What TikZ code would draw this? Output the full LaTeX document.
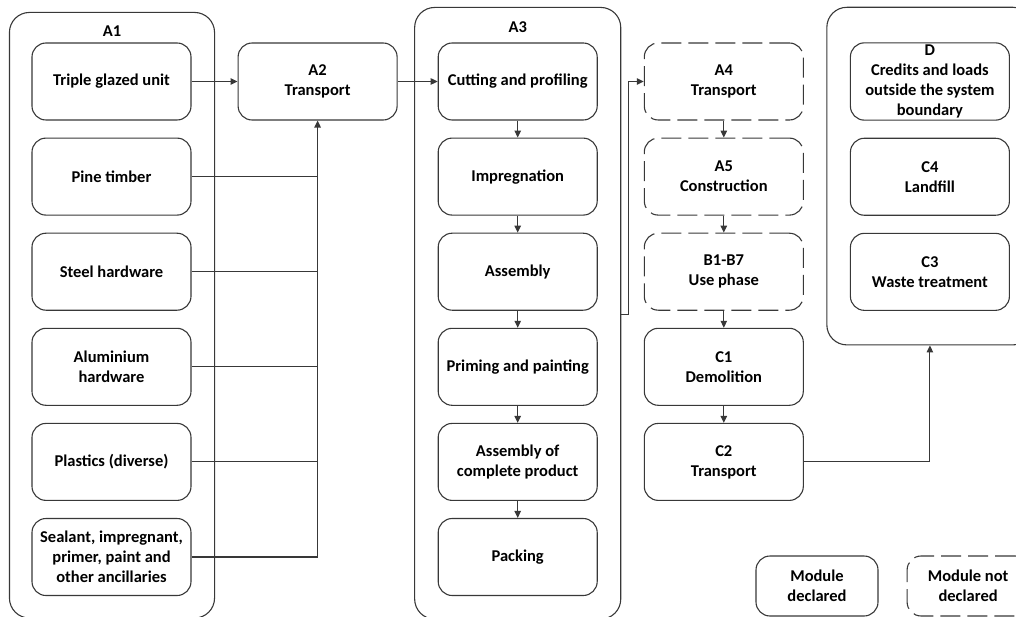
\documentclass[tikz,border=0pt]{standalone}
\usepackage{fontspec}
\setmainfont{Carlito}
\usetikzlibrary{arrows.meta,positioning,fit,calc}

\begin{document}
\begin{tikzpicture}[
    node distance=17pt and 46pt,
    font=\fontsize{16.5}{20}\selectfont\bfseries,
    box/.style={rectangle, rounded corners=14pt, draw=black!78, line width=1.1pt, align=center, minimum width=159pt, minimum height=77pt, inner sep=2pt},
    nobox/.style={box, dash pattern=on 20pt off 7pt},
    group/.style={rectangle, rounded corners=20pt, draw=black!78, line width=1.1pt, inner sep=0pt},
    title/.style={inner sep=0pt},
    link/.style={draw=black!78, line width=1.1pt},
    arr/.style={link, -{Triangle[length=7pt,width=6.5pt]}}
]
\useasboundingbox (0,0) rectangle (1016pt,-617pt);

% Module A1
\node[box] (tgu) at (111.5pt,-81.5pt) {Triple glazed unit};
\node[box, below=of tgu] (pine) {Pine timber};
\node[box, below=of pine] (steel) {Steel hardware};
\node[box, below=of steel] (alu) {Aluminium\\hardware};
\node[box, below=of alu] (plast) {Plastics (diverse)};
\node[box, below=of plast] (seal) {Sealant, impregnant,\\primer, paint and\\other ancillaries};

% Module A2
\node[box, right=of tgu] (a2) {A2\\Transport};

% Module A3
\node[box, right=40pt of a2] (cut) {Cutting and profiling};
\node[box, below=of cut] (impr) {Impregnation};
\node[box, below=of impr] (asm) {Assembly};
\node[box, below=of asm] (prime) {Priming and painting};
\node[box, below=of prime] (full) {Assembly of\\complete product};
\node[box, below=of full] (pack) {Packing};

% Modules A4 to C2
\node[nobox, right=of cut] (a4) {A4\\Transport};
\node[nobox, below=of a4] (a5) {A5\\Construction};
\node[nobox, below=of a5] (use) {B1-B7\\Use phase};
\node[box, below=of use] (c1) {C1\\Demolition};
\node[box, below=of c1] (c2) {C2\\Transport};

% Modules D, C4 and C3
\node[box, right=of a4] (dmod) {D\\Credits and loads\\outside the system\\boundary};
\node[box, below=of dmod] (c4) {C4\\Landfill};
\node[box, below=of c4] (c3) {C3\\Waste treatment};

% Group frames
\coordinate (a1nw) at ($(tgu.north west)+(-22pt,30pt)$);
\coordinate (a1se) at ($(seal.south east)+(23pt,-22pt)$);
\node[group, fit=(a1nw)(a1se)] (a1) {};
\node[title, below=14pt of a1.north] (a1lbl) {A1};

\coordinate (a3nw) at ($(cut.north west)+(-23pt,35pt)$);
\coordinate (a3se) at ($(pack.south east)+(23pt,-23pt)$);
\node[group, fit=(a3nw)(a3se)] (a3) {};
\node[title, below=15pt of a3.north] (a3lbl) {A3};

\coordinate (dnw) at ($(dmod.north west)+(-23pt,35pt)$);
\coordinate (dse) at ($(c3.south east)+(23pt,-34pt)$);
\node[group, fit=(dnw)(dse)] (dgrp) {};

% Arrows
\draw[arr] (tgu) -- (a2);
\foreach \src in {pine,steel,alu,plast}
    \draw[link] (\src.east) -- (\src.east -| a2.south);
\draw[arr] (seal.east) -| (a2.south);
\draw[arr] (a2) -- (cut);
\foreach \a/\b in {cut/impr,impr/asm,asm/prime,prime/full,full/pack}
    \draw[arr] (\a) -- (\b);
\coordinate (a3out) at ($(asm.south -| a3.east)+(0,-4pt)$);
\draw[arr] (a3out) -- ++(7pt,0) |- (a4);
\foreach \a/\b in {a4/a5,a5/use,use/c1,c1/c2}
    \draw[arr] (\a) -- (\b);
\draw[arr] (c2) -| (dmod.center |- dgrp.south);

% Legend
\node[box, minimum width=122pt, minimum height=60pt] (decl) at (817pt,-586pt) {Module\\declared};
\node[nobox, minimum width=122pt, minimum height=60pt, right=28pt of decl] (ndecl) {Module not\\declared};

\end{tikzpicture}
\end{document}
